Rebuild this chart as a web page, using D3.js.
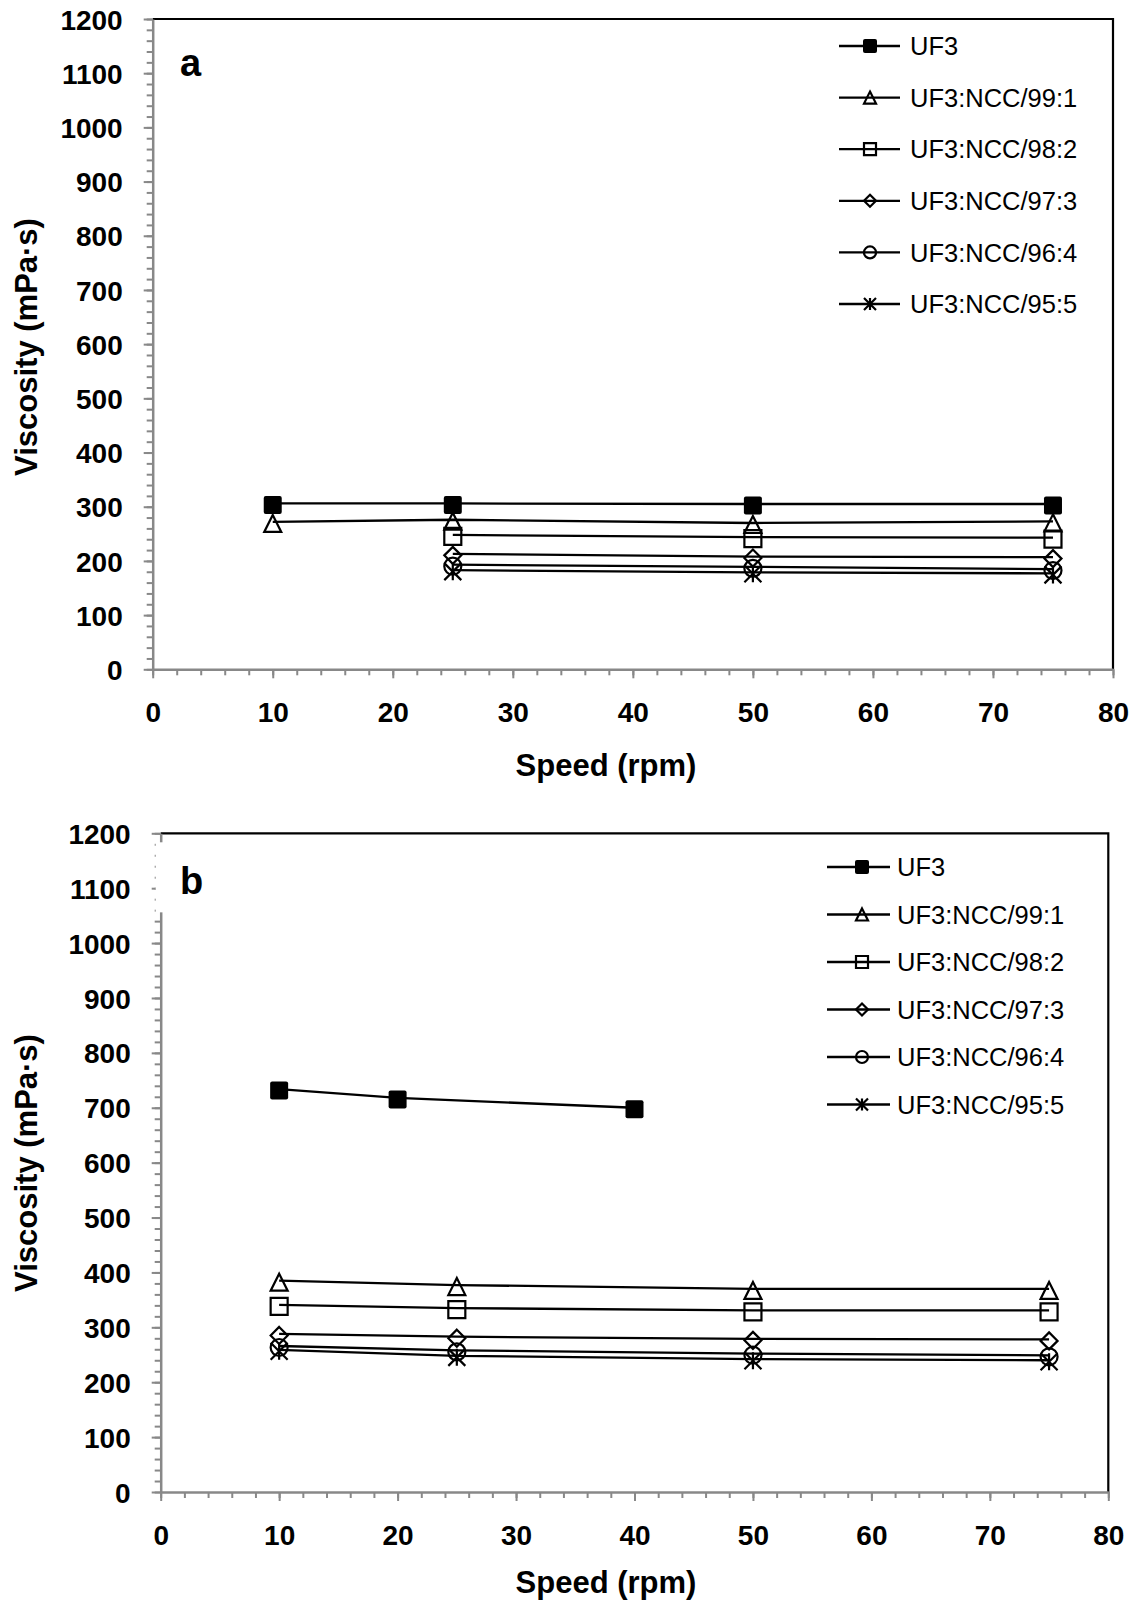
<!DOCTYPE html>
<html>
<head>
<meta charset="utf-8">
<script src="https://cdn.jsdelivr.net/npm/d3@7"></script>
<style>
  body { margin: 0; background: #fff; }
  text { font-family: "Liberation Sans", Arial, sans-serif; fill: #000; }
</style>
</head>
<body>
<div id="chart"></div>
<script>
// series names and marker kinds, same order in both panels
const seriesNames = ["UF3", "UF3:NCC/99:1", "UF3:NCC/98:2", "UF3:NCC/97:3", "UF3:NCC/96:4", "UF3:NCC/95:5"];
const markerKinds = ["filled", "triangle", "square", "diamond", "circle", "asterisk"];

// panel a : speeds (rpm) and viscosity (mPa·s)
const speedsA_UF3 = [10, 25, 50, 75];
const speedsA_991 = [10, 25, 50, 75];
const speedsA_rest = [25, 50, 75];
const viscA_UF3 = [306, 306, 305, 305];
const viscA_991 = [272, 276, 270, 273];
const viscA_982 = [248, 244, 243];
const viscA_973 = [213, 208, 207];
const viscA_964 = [193, 189, 185];
const viscA_955 = [183, 179, 177];

// panel b
const speedsB_UF3 = [10, 20, 40];
const speedsB = [10, 25, 50, 75];
const viscB_UF3 = [734, 718, 700];
const viscB_991 = [385, 377, 370, 370];
const viscB_982 = [341, 335, 331, 331];
const viscB_973 = [288, 283, 279, 278];
const viscB_964 = [266, 258, 252, 249];
const viscB_955 = [259, 248, 242, 240];

// axis ticks
const yTicks = d3.range(0, 1201, 100);
const yMinor = d3.range(0, 1201, 20);
const xTicks = d3.range(0, 81, 10);
const xMinor = d3.range(0, 81, 2);

const zip = (xs, ys) => xs.map((x, i) => ({ x: x, y: ys[i] }));

const panels = [
  {
    label: "a",
    left: 152.7, right: 1113, top: 19, bottom: 669.3,
    series: [
      zip(speedsA_UF3, viscA_UF3), zip(speedsA_991, viscA_991), zip(speedsA_rest, viscA_982),
      zip(speedsA_rest, viscA_973), zip(speedsA_rest, viscA_964), zip(speedsA_rest, viscA_955)
    ],
    legend: { x1: 839, x2: 900, mx: 870, tx: 910, y0: 46, dy: 51.6 },
    labelPos: [180, 76], xTitleY: 765, yTitleY: 347, gap: false
  },
  {
    label: "b",
    left: 160.7, right: 1108.3, top: 833.3, bottom: 1492,
    series: [
      zip(speedsB_UF3, viscB_UF3), zip(speedsB, viscB_991), zip(speedsB, viscB_982),
      zip(speedsB, viscB_973), zip(speedsB, viscB_964), zip(speedsB, viscB_955)
    ],
    legend: { x1: 827, x2: 890, mx: 862, tx: 897, y0: 867, dy: 47.5 },
    labelPos: [180, 894], xTitleY: 1582, yTitleY: 1163, gap: true
  }
];

const svg = d3.select("#chart").append("svg")
  .attr("width", 1141)
  .attr("height", 1600);

function markerPath(kind, s) {
  const h = s / 2, p = d3.path();
  if (kind === "triangle") {
    p.moveTo(0, -h); p.lineTo(h, h); p.lineTo(-h, h); p.closePath();
  } else if (kind === "diamond") {
    p.moveTo(0, -h); p.lineTo(h, 0); p.lineTo(0, h); p.lineTo(-h, 0); p.closePath();
  } else if (kind === "circle") {
    p.moveTo(h, 0); p.arc(0, 0, h, 0, 2 * Math.PI);
  } else if (kind === "asterisk") {
    p.moveTo(-h, -h); p.lineTo(h, h);
    p.moveTo(h, -h); p.lineTo(-h, h);
    p.moveTo(0, -h); p.lineTo(0, h);
  } else {
    p.rect(-h, -h, s, s);
  }
  return p.toString();
}

function drawMarker(g, kind, x, y, s) {
  if (kind === "filled") {
    g.append("rect")
      .attr("x", x - s / 2).attr("y", y - s / 2)
      .attr("width", s).attr("height", s)
      .attr("rx", 2)
      .attr("fill", "#000");
  } else {
    g.append("path")
      .attr("transform", `translate(${x},${y})`)
      .attr("d", markerPath(kind, s))
      .attr("fill", "none")
      .attr("stroke", "#000")
      .attr("stroke-width", 2.2);
  }
}

panels.forEach(p => {
  const g = svg.append("g");
  const x = d3.scaleLinear().domain([0, 80]).range([p.left, p.right]);
  const y = d3.scaleLinear().domain([0, 1200]).range([p.bottom, p.top]);

  // plot frame (top and right are black)
  g.append("path")
    .attr("d", `M${p.left},${p.top}H${p.right}V${p.bottom}`)
    .attr("fill", "none")
    .attr("stroke", "#000")
    .attr("stroke-width", 2.2);

  // minor ticks
  g.append("g")
    .attr("transform", `translate(${p.left},0)`)
    .call(d3.axisLeft(y).tickValues(yMinor).tickSize(6).tickFormat(""))
    .call(a => a.select(".domain").remove())
    .call(a => a.selectAll("line").attr("stroke", "#888").attr("stroke-width", 2));
  g.append("g")
    .attr("transform", `translate(0,${p.bottom})`)
    .call(d3.axisBottom(x).tickValues(xMinor).tickSize(6).tickFormat(""))
    .call(a => a.select(".domain").remove())
    .call(a => a.selectAll("line").attr("stroke", "#888").attr("stroke-width", 2));

  // major axes
  const yAx = g.append("g")
    .attr("transform", `translate(${p.left},0)`)
    .call(d3.axisLeft(y).tickValues(yTicks).tickFormat(d3.format("d"))
      .tickSize(9).tickSizeOuter(0).tickPadding(21));
  const xAx = g.append("g")
    .attr("transform", `translate(0,${p.bottom})`)
    .call(d3.axisBottom(x).tickValues(xTicks).tickFormat(d3.format("d"))
      .tickSize(9).tickSizeOuter(0).tickPadding(24));
  [yAx, xAx].forEach(a => {
    a.attr("font-family", null).attr("font-size", null);
    a.select(".domain").attr("stroke", "#888").attr("stroke-width", 2.5);
    a.selectAll("line").attr("stroke", "#888").attr("stroke-width", 2);
    a.selectAll("text")
      .attr("fill", "#000")
      .style("font-size", "28px")
      .style("font-weight", "bold");
  });
  yAx.selectAll("text").attr("dy", "0.36em");
  xAx.selectAll("text").attr("dy", "0.71em");

  // broken piece of the left axis in panel b
  if (p.gap) {
    g.append("rect")
      .attr("x", p.left - 5).attr("y", p.top + 9)
      .attr("width", 8).attr("height", y(1056) - p.top - 9)
      .attr("fill", "#fff");
  }

  // series
  const line = d3.line().x(d => x(d.x)).y(d => y(d.y));
  p.series.forEach((pts, i) => {
    g.append("path")
      .datum(pts)
      .attr("d", line)
      .attr("fill", "none")
      .attr("stroke", "#000")
      .attr("stroke-width", 2.3);
    pts.forEach(d => drawMarker(g, markerKinds[i], x(d.x), y(d.y) + 1.5, i === 0 ? 18 : 17));
  });

  // legend
  const L = p.legend;
  seriesNames.forEach((name, i) => {
    const ly = L.y0 + i * L.dy;
    g.append("line")
      .attr("x1", L.x1).attr("x2", L.x2)
      .attr("y1", ly).attr("y2", ly)
      .attr("stroke", "#000").attr("stroke-width", 2.3);
    drawMarker(g, markerKinds[i], L.mx, ly, i === 0 ? 14 : 12);
    g.append("text")
      .attr("x", L.tx).attr("y", ly)
      .attr("dy", "0.36em")
      .style("font-size", "25.5px")
      .text(name);
  });

  // panel letter
  g.append("text")
    .attr("x", p.labelPos[0]).attr("y", p.labelPos[1])
    .style("font-size", "38px")
    .style("font-weight", "bold")
    .text(p.label);

  // axis titles
  g.append("text")
    .attr("x", 606).attr("y", p.xTitleY)
    .attr("text-anchor", "middle")
    .attr("dy", "0.36em")
    .style("font-size", "31px")
    .style("font-weight", "bold")
    .text("Speed (rpm)");
  g.append("text")
    .attr("transform", `translate(26,${p.yTitleY}) rotate(-90)`)
    .attr("text-anchor", "middle")
    .attr("dy", "0.36em")
    .style("font-size", "31px")
    .style("font-weight", "bold")
    .text("Viscosity (mPa·s)");
});
</script>
</body>
</html>
